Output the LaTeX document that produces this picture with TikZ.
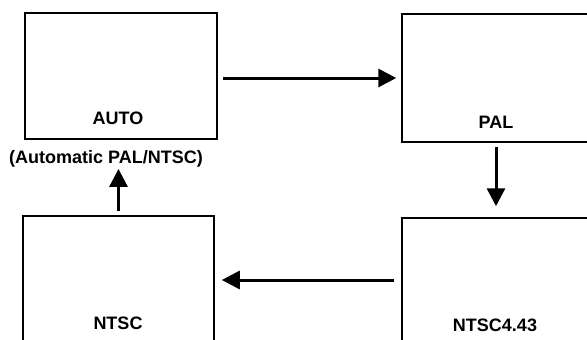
\documentclass[tikz,border=0pt]{standalone}
\usepackage{fontspec}
\setmainfont{Liberation Sans}
\usetikzlibrary{arrows.meta,calc}
\begin{document}
\begin{tikzpicture}[x=1pt,y=-1pt,
  modebox/.style={draw=black,line width=1.5pt,rectangle,inner sep=0pt},
  modetext/.style={anchor=base,inner sep=0pt,font=\fontsize{18}{21}\selectfont\bfseries},
  arr/.style={line width=3pt,-{Triangle[length=18pt,width=18pt]}}]
\useasboundingbox (0,0) rectangle (587,340);
\clip (0,0) rectangle (587,340);
% boxes
\node[modebox,minimum width=192pt,minimum height=126pt] (auto) at (121,76) {};
\node[modebox,minimum width=198pt,minimum height=128pt] (pal) at (501,78) {};
\node[modebox,minimum width=191pt,minimum height=134pt] (ntsc) at (118.5,283) {};
\node[modebox,minimum width=198pt,minimum height=132pt] (ntscb) at (501,284) {};
% texts
\node[modetext] (autot) at (118,124) {AUTO};
\node[modetext] (autolbl) at (106,163) {(Automatic PAL/NTSC)};
\node[modetext] (palt) at (496,128) {PAL};
\node[modetext] (ntsct) at (118,329) {NTSC};
\node[modetext] (ntscbt) at (495,331) {NTSC4.43};
% arrows
\draw[arr,shorten <=5pt,shorten >=5pt] (auto.east |- pal.west) -- (pal.west);
\draw[arr,shorten <=4pt,shorten >=11pt] (palt.base |- pal.south) -- (palt.base |- ntscb.north);
\draw[arr,shorten <=7pt,shorten >=7pt] ([yshift=4pt]ntscb.west) -- ([yshift=4pt]ntsc.east |- ntscb.west);
\draw[arr,shorten <=4pt,shorten >=2pt] (ntsc.north) -- (ntsc.north |- autolbl.south);
\end{tikzpicture}
\end{document}
